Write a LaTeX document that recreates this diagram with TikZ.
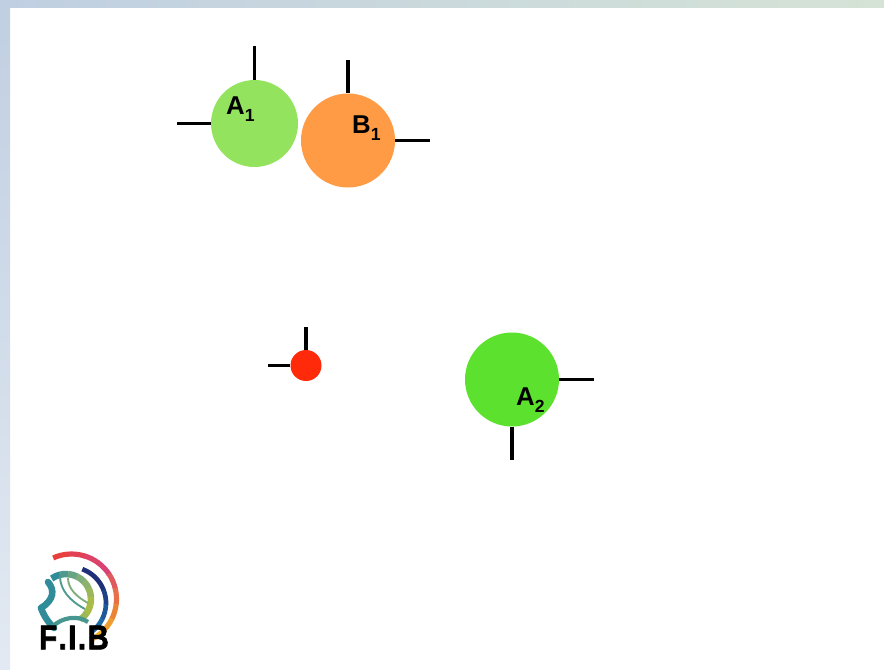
\documentclass[tikz,border=0pt]{standalone}
\usepackage{fontspec}
\setmainfont{Liberation Sans}
\newfontfamily\logofont{Liberation Sans Bold}[FakeBold=2]
\usetikzlibrary{calc}

\definecolor{greenA}{HTML}{93E35F}
\definecolor{greenB}{HTML}{5CE22E}
\definecolor{orangeB}{HTML}{FF9B44}
\definecolor{redP}{HTML}{FF2A0A}
\definecolor{stripL}{HTML}{C0CFE2}
\definecolor{stripR}{HTML}{D5E3D6}
\definecolor{logoRed}{HTML}{E8403F}
\definecolor{logoPink}{HTML}{DA4274}
\definecolor{logoOrange}{HTML}{EC8436}
\definecolor{logoYellow}{HTML}{F3B32B}
\definecolor{logoNavy}{HTML}{1F2F7A}
\definecolor{logoBlue}{HTML}{1E6AA8}
\definecolor{logoTeal}{HTML}{2F8C98}
\definecolor{logoGreen}{HTML}{7FAE7C}
\definecolor{logoOlive}{HTML}{A9BC48}

\newcommand{\sublbl}[2]{#1\raisebox{-0.3em}{\fontsize{15}{15}\selectfont #2}}

\tikzset{
    ball/.style={circle, draw=none, inner sep=0pt, minimum size=#1*0.03cm},
    stub/.style={line width=2.6pt, black},
    lbl/.style={font=\bfseries\fontsize{22}{22}\selectfont, inner sep=0pt, anchor=base west},
    logotext/.style={font=\logofont\fontsize{29.5}{29.5}\selectfont, inner sep=0pt, xscale=0.85}
}

\begin{document}
\begin{tikzpicture}[x=0.03cm, y=-0.03cm]
    \useasboundingbox (0, 0) rectangle (884, 670);

    % frame
    \fill[left color=stripL, right color=stripR] (0, 0) rectangle (884, 7);
    \fill[top color=stripL, bottom color=stripL!45] (0, 7) rectangle (10, 670);

    \node[ball=87, fill=greenA] (a1) at (254.5, 123.5) {};
    \node[ball=94, fill=orangeB] (b1) at (348, 140.5) {};
    \node[ball=31, fill=redP] (p) at (306, 365.5) {};
    \node[ball=94, fill=greenB] (a2) at (512, 379.5) {};

    \coordinate (a1top) at (254.5, 46);
    \coordinate (a1left) at (177, 123.5);
    \coordinate (b1top) at (348, 60);
    \coordinate (b1right) at (430, 140.5);
    \coordinate (ptop) at (306, 327);
    \coordinate (pleft) at (267.5, 365.5);
    \coordinate (a2right) at (594, 379.5);
    \coordinate (a2down) at (512, 460);

    \draw[stub] (a1.north) -- (a1top);
    \draw[stub] (a1.west) -- (a1left);
    \draw[stub] (b1.north) -- (b1top);
    \draw[stub] (b1.east) -- (b1right);
    \draw[stub] (p.north) -- (ptop);
    \draw[stub] (p.west) -- (pleft);
    \draw[stub] (a2.east) -- (a2right);
    \draw[stub] (a2.south) -- (a2down);

    \node[lbl] (la1) at (226, 114) {\sublbl{A}{1}};
    \node[lbl] (lb1) at (352, 133) {\sublbl{B}{1}};
    \node[lbl] (la2) at (516, 405) {\sublbl{A}{2}};

    % logo
    \foreach \ang/\col in {-114/logoRed, -94/logoRed!60!logoPink, -74/logoRed!25!logoPink, -54/logoPink, -34/logoPink!65!logoOrange, -14/logoPink!30!logoOrange, 6/logoOrange, 26/logoOrange!50!logoYellow, 44/logoYellow}
        \draw[line width=4.4pt, color=\col] ($(71.5, 599) + (\ang:45)$) arc[start angle=\ang, end angle=\ang+21, radius=45];
    \foreach \ang/\col in {-70/logoNavy, -46/logoNavy, -22/logoNavy!70!logoBlue, 2/logoNavy!30!logoBlue, 26/logoBlue}
        \draw[line width=4pt, color=\col] ($(70, 603) + (\ang:36)$) arc[start angle=\ang, end angle=\ang+25, radius=36];
    \foreach \ang/\col in {-125/logoTeal, -105/logoTeal!60!logoGreen, -85/logoTeal!30!logoGreen, -65/logoGreen, -45/logoGreen!70!logoOlive, -25/logoGreen!35!logoOlive, -5/logoOlive, 15/logoOlive, 35/logoOlive!70!logoGreen}
        \draw[line width=5.6pt, color=\col] ($(66, 599) + (\ang:25)$) arc[start angle=\ang, end angle=\ang+21, radius=25];
    \draw[line width=5.6pt, logoTeal, line cap=round] (48, 582) .. controls (55, 590) and (54, 600) .. (41, 608);
    \draw[line width=5.6pt, logoTeal, line cap=round] (41, 608) .. controls (44, 616) and (48, 622) .. (54, 628);
    \draw[line width=3.6pt, logoTeal!70!logoGreen] (52, 627) .. controls (62, 617) and (78, 615) .. (88, 622);
    \draw[line width=1.6pt, logoTeal!60!logoGreen] (60, 576) .. controls (60, 590) and (70, 601) .. (85, 609);
    \draw[line width=1.6pt, logoGreen] (68, 578) .. controls (68, 589) and (77, 597) .. (88, 603);

    \node[logotext] (fib) at (74, 637.5) {F\kern1.5pt.\kern1.5pt I\kern1.5pt.\kern1.5pt B};
\end{tikzpicture}
\end{document}
